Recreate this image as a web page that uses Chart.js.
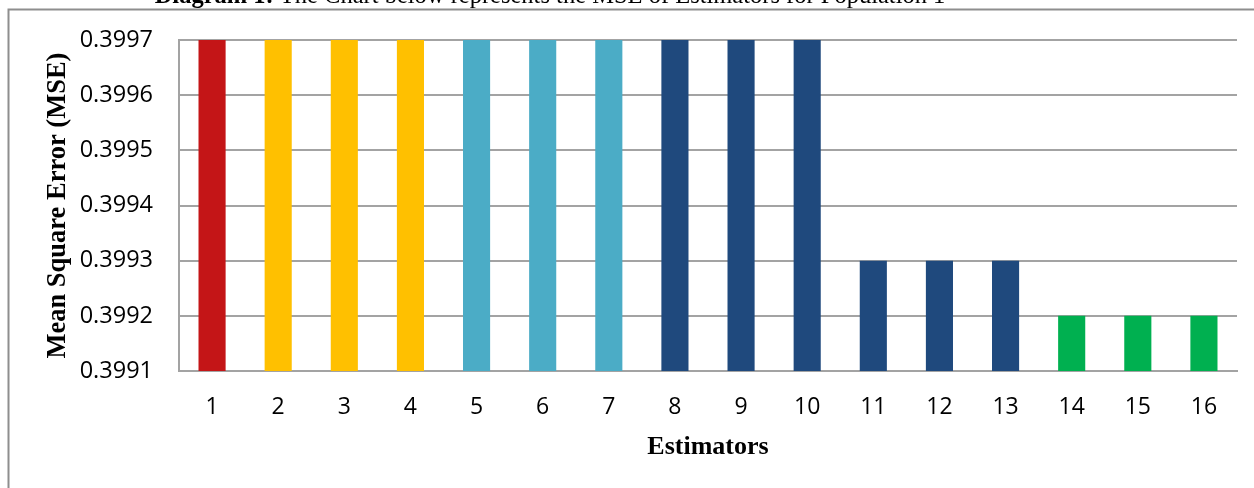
<!DOCTYPE html>
<html>
<head>
<meta charset="utf-8">
<script src="https://cdn.jsdelivr.net/npm/chart.js@4/dist/chart.umd.min.js"></script>
<style>
  html, body { margin: 0; padding: 0; background: #fff; }
  #wrap { position: relative; width: 1254px; height: 488px; overflow: hidden; }
</style>
</head>
<body>
<div id="wrap"><canvas id="c" width="1254" height="488"></canvas></div>
<script>
// Estimator numbers along the x axis
const estimators = ['1','2','3','4','5','6','7','8','9','10','11','12','13','14','15','16'];
// Mean square error of each estimator
const mseValues = [0.3997,0.3997,0.3997,0.3997,0.3997,0.3997,0.3997,0.3997,0.3997,0.3997,
                   0.3993,0.3993,0.3993,0.3992,0.3992,0.3992];
// Value axis range and step
const yMin = 0.3991;
const yMax = 0.3997;
const yStep = 0.0001;
// Text
const titleBold = 'Diagram 1:';
const titleRest = ' The Chart below represents the MSE of Estimators for Population 1';
const xTitle = 'Estimators';
const yTitle = 'Mean Square Error (MSE)';

// Bar fill per estimator family
const barColors = ['#C41517',
  '#FFC000','#FFC000','#FFC000',
  '#4BACC6','#4BACC6','#4BACC6',
  '#1F497D','#1F497D','#1F497D','#1F497D','#1F497D','#1F497D',
  '#00B050','#00B050','#00B050'];

const gridGray = '#A3A3A3';
const serif = '"Liberation Serif", "Times New Roman", serif';
const sans = '"Open Sans", "Noto Sans", sans-serif';

// Frame around the figure and the heading above it
const framePlugin = {
  id: 'frame',
  beforeDraw(chart) {
    const ctx = chart.ctx;
    ctx.save();
    ctx.fillStyle = '#fff';
    ctx.fillRect(0, 0, chart.width, chart.height);
    ctx.strokeStyle = '#8E8E8E';
    ctx.lineWidth = 2;
    ctx.beginPath();
    ctx.moveTo(1254, 9.5);
    ctx.lineTo(8.5, 9.5);
    ctx.lineTo(8.5, 488);
    ctx.stroke();

    ctx.fillStyle = '#000';
    ctx.textBaseline = 'alphabetic';
    const size = 24.5;
    ctx.font = 'bold ' + size + 'px ' + serif;
    const wb = ctx.measureText(titleBold).width;
    ctx.font = size + 'px ' + serif;
    const wr = ctx.measureText(titleRest).width;
    const x = 550 - (wb + wr) / 2;
    const y = 3;
    ctx.font = 'bold ' + size + 'px ' + serif;
    ctx.fillText(titleBold, x, y);
    ctx.font = size + 'px ' + serif;
    ctx.fillText(titleRest, x + wb, y);
    ctx.restore();
  }
};

new Chart(document.getElementById('c'), {
  type: 'bar',
  data: {
    labels: estimators,
    datasets: [{
      data: mseValues,
      backgroundColor: barColors,
      borderWidth: 0,
      categoryPercentage: 1.0,
      barPercentage: 0.41
    }]
  },
  options: {
    responsive: false,
    animation: false,
    devicePixelRatio: 1,
    layout: { padding: { top: 40, right: 17, left: 0, bottom: 0 } },
    plugins: {
      legend: { display: false },
      tooltip: { enabled: false }
    },
    scales: {
      x: {
        grid: { display: false, drawTicks: false },
        border: { display: true, color: gridGray, width: 2 },
        ticks: { color: '#000', font: { family: sans, size: 23 }, padding: 23, maxRotation: 0 },
        title: {
          display: true, text: xTitle, color: '#000',
          font: { family: serif, size: 26, weight: 'bold' },
          padding: { top: 0, bottom: 25 }
        },
        afterFit(scale) { scale.height = 117; }
      },
      y: {
        min: yMin,
        max: yMax,
        grid: { color: gridGray, lineWidth: 2, drawTicks: false },
        border: { display: true, color: gridGray, width: 2 },
        ticks: {
          stepSize: yStep,
          color: '#000',
          font: { family: sans, size: 23.5 },
          padding: 26,
          callback: v => Number(v).toFixed(4)
        },
        title: {
          display: true, text: yTitle, color: '#000',
          font: { family: serif, size: 26.5, weight: 'bold' },
          padding: { top: 42, bottom: 0 }
        },
        afterFit(scale) { scale.width = 179; }
      }
    }
  },
  plugins: [framePlugin]
});
</script>
</body>
</html>
